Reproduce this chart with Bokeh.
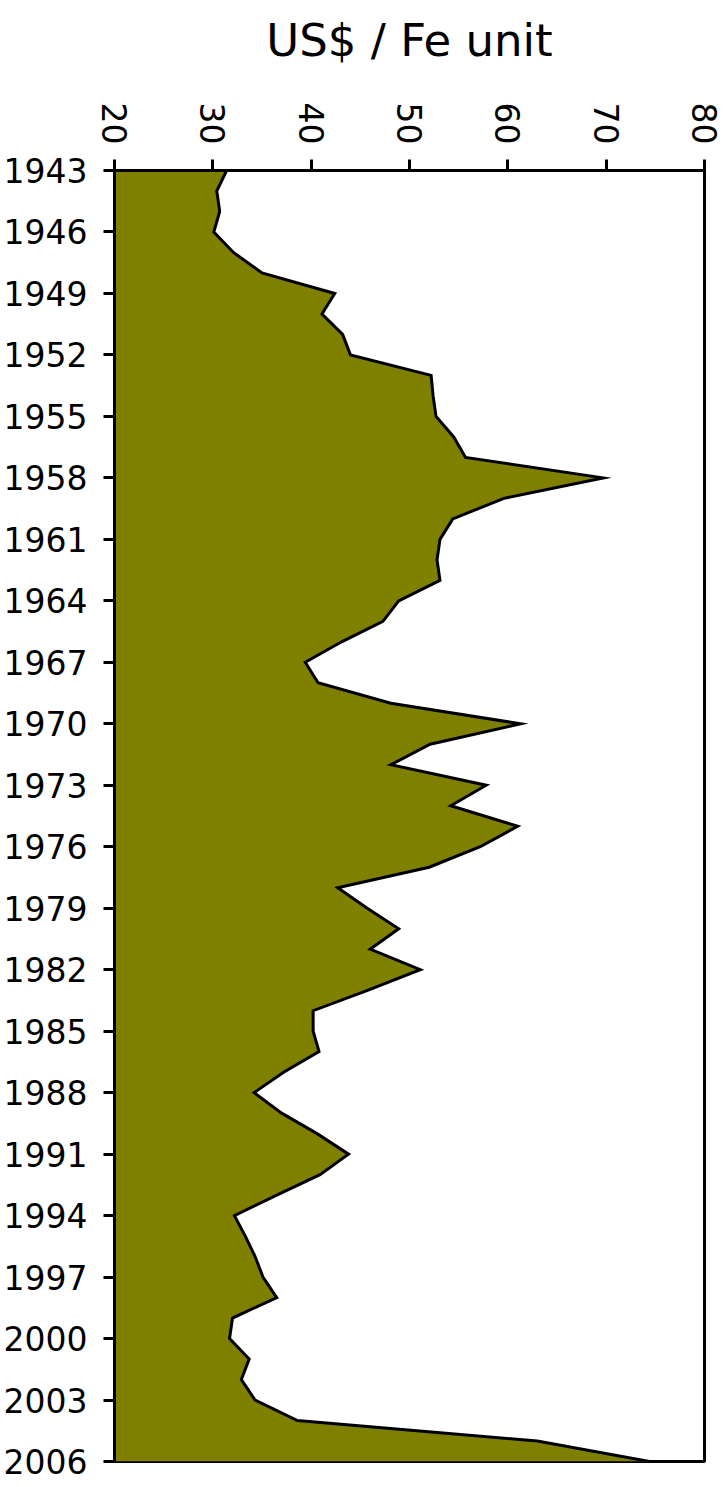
import math
from bokeh.plotting import figure
from bokeh.models import Range1d, FixedTicker, ColumnDataSource
from bokeh.embed import file_html
from bokeh.resources import INLINE

years = [1943, 1944, 1945, 1946, 1947, 1948, 1949, 1950, 1951, 1952,
         1953, 1954, 1955, 1956, 1957, 1958, 1959, 1960, 1961, 1962,
         1963, 1964, 1965, 1966, 1967, 1968, 1969, 1970, 1971, 1972,
         1973, 1974, 1975, 1976, 1977, 1978, 1979, 1980, 1981, 1982,
         1983, 1984, 1985, 1986, 1987, 1988, 1989, 1990, 1991, 1992,
         1993, 1994, 1995, 1996, 1997, 1998, 1999, 2000, 2001, 2002,
         2003, 2004, 2005, 2006]
prices = [31.4, 30.4, 30.7, 30.1, 32.1, 35.0, 42.4, 41.1, 43.2, 44.0,
          52.2, 52.4, 52.7, 54.5, 55.7, 69.7, 59.6, 54.4, 53.1, 52.8,
          53.1, 48.9, 47.3, 43.1, 39.4, 40.7, 48.1, 61.3, 52.1, 48.1,
          57.8, 54.2, 61.0, 57.2, 52.0, 42.7, 45.7, 48.9, 46.0, 51.1,
          45.8, 40.2, 40.2, 40.8, 37.2, 34.2, 37.0, 40.6, 43.8, 40.9,
          36.5, 32.2, 33.3, 34.3, 35.1, 36.5, 32.0, 31.7, 33.7, 32.9,
          34.3, 38.6, 63.0, 74.4]
x_ticks = [20, 30, 40, 50, 60, 70, 80]
year_ticks = [1943, 1946, 1949, 1952, 1955, 1958, 1961, 1964, 1967, 1970,
              1973, 1976, 1979, 1982, 1985, 1988, 1991, 1994, 1997, 2000,
              2003, 2006]
x_label = "US$ / Fe unit"
base_value = 20

FONT = "DejaVu Sans"

source = ColumnDataSource(data=dict(year=years, price=prices))

p = figure(frame_width=590, frame_height=1291,
           x_range=Range1d(20, 80), y_range=Range1d(2006, 1943),
           x_axis_location="above",
           output_backend="svg", toolbar_location=None,
           min_border_left=114, min_border_top=170,
           min_border_right=22, min_border_bottom=22,
           background_fill_color="white", border_fill_color="white")

p.harea(x1=base_value, x2="price", y="year", source=source,
        fill_color="#808000", fill_alpha=1.0)
p.line(x="price", y="year", source=source, line_color="black",
       line_width=3, line_join="miter")

p.xgrid.visible = False
p.ygrid.visible = False
p.outline_line_color = "black"
p.outline_line_width = 3

xa = p.xaxis[0]
xa.ticker = FixedTicker(ticks=x_ticks)
xa.major_label_orientation = -math.pi / 2
xa.major_label_text_font = FONT
xa.major_label_text_font_size = "33px"
xa.major_label_text_color = "black"
xa.major_label_standoff = 15
xa.major_tick_out = 11
xa.major_tick_in = 0
xa.minor_tick_out = 0
xa.minor_tick_in = 0
xa.major_tick_line_width = 3
xa.axis_line_width = 3
xa.axis_label = x_label
xa.axis_label_text_font = FONT
xa.axis_label_text_font_size = "45px"
xa.axis_label_text_font_style = "normal"
xa.axis_label_text_color = "black"
xa.axis_label_standoff = 33

ya = p.yaxis[0]
ya.ticker = FixedTicker(ticks=year_ticks)
ya.major_label_text_font = FONT
ya.major_label_text_font_size = "33px"
ya.major_label_text_color = "black"
ya.major_label_standoff = 16
ya.major_tick_out = 11
ya.major_tick_in = 0
ya.minor_tick_out = 0
ya.minor_tick_in = 0
ya.major_tick_line_width = 3
ya.axis_line_width = 3

open("out.html", "w").write(file_html(p, INLINE))
